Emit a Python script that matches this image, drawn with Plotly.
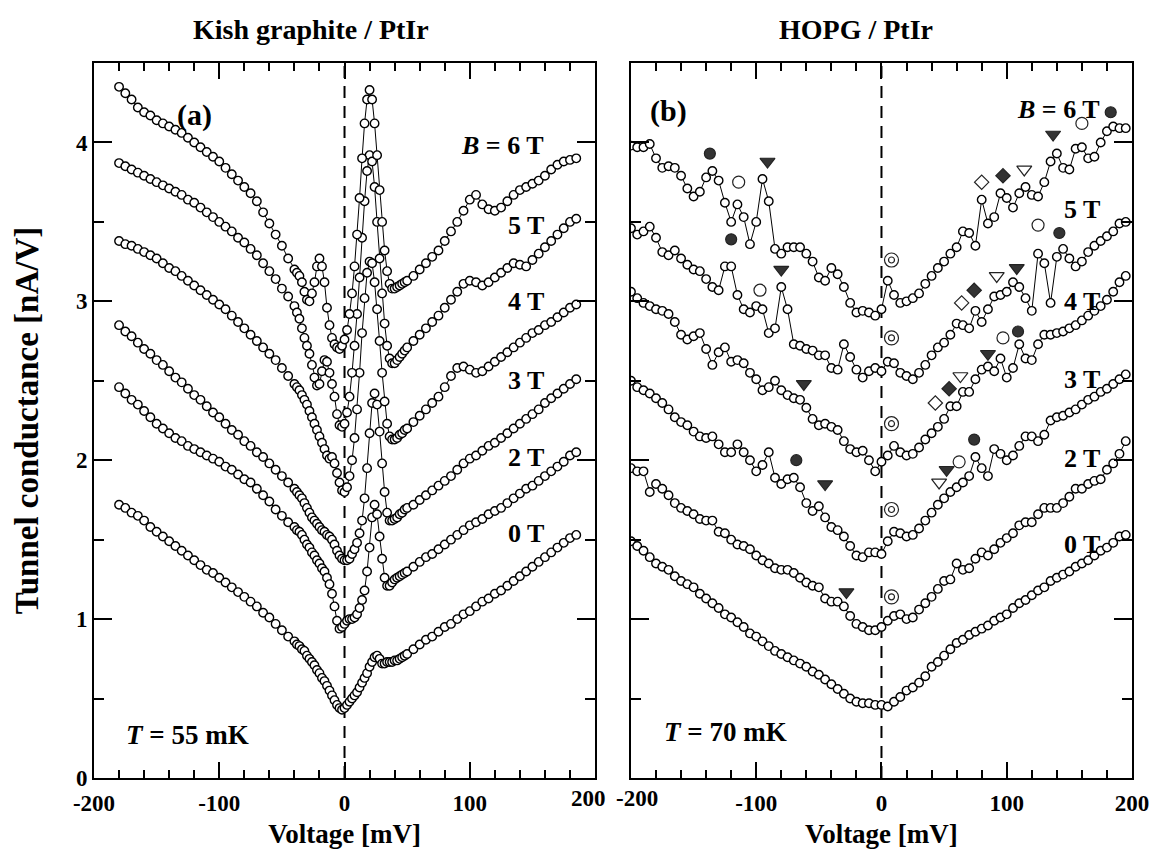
import plotly.graph_objects as go

#%% voltage grids [mV]
V_A = list(range(-180, -40, 5)) + list(range(-40, 50, 2)) + list(range(50, 190, 5))
V_B = list(range(-200, 200, 5))

#%% (a) Kish graphite / PtIr  -- conductance [nA/V]
A_0T = ([1.72, 1.70, 1.67, 1.65, 1.62, 1.58, 1.55, 1.52, 1.49, 1.46, 1.43, 1.40, 1.37, 1.34,
         1.31, 1.29, 1.26, 1.23, 1.20, 1.17, 1.14, 1.11, 1.08, 1.04, 1.01, 0.97, 0.93, 0.89]
        + [0.86, 0.84, 0.83, 0.81, 0.80, 0.77, 0.75, 0.73, 0.71, 0.68, 0.66, 0.63, 0.61, 0.58, 0.55,
           0.52, 0.49, 0.46, 0.44, 0.43, 0.44, 0.46, 0.48, 0.50, 0.52, 0.54, 0.57, 0.60, 0.63, 0.66,
           0.70, 0.73, 0.76, 0.77, 0.75, 0.72, 0.72, 0.73, 0.73, 0.73, 0.74, 0.74, 0.75, 0.76, 0.77]
        + [0.78, 0.81, 0.84, 0.87, 0.89, 0.92, 0.95, 0.97, 1.00, 1.03, 1.05, 1.08, 1.11, 1.13,
           1.16, 1.18, 1.21, 1.24, 1.27, 1.30, 1.33, 1.36, 1.39, 1.42, 1.45, 1.48, 1.51, 1.53])
A_2T = ([2.46, 2.42, 2.38, 2.35, 2.31, 2.27, 2.23, 2.20, 2.17, 2.14, 2.12, 2.09, 2.07, 2.05,
         2.03, 2.01, 1.99, 1.96, 1.94, 1.91, 1.88, 1.86, 1.82, 1.78, 1.74, 1.69, 1.65, 1.61]
        + [1.58, 1.56, 1.55, 1.53, 1.50, 1.47, 1.45, 1.42, 1.40, 1.37, 1.35, 1.32, 1.30, 1.26, 1.22,
           1.16, 1.08, 0.99, 0.94, 0.95, 0.97, 0.99, 1.00, 1.00, 1.01, 1.03, 1.07, 1.12, 1.18, 1.30,
           1.45, 1.64, 1.72, 1.66, 1.52, 1.38, 1.26, 1.21, 1.21, 1.23, 1.25, 1.26, 1.27, 1.28, 1.29]
        + [1.30, 1.33, 1.36, 1.39, 1.41, 1.44, 1.47, 1.50, 1.53, 1.56, 1.59, 1.61, 1.63, 1.66,
           1.68, 1.70, 1.73, 1.76, 1.79, 1.82, 1.84, 1.87, 1.90, 1.93, 1.96, 1.99, 2.03, 2.05])
A_3T = ([2.85, 2.81, 2.78, 2.74, 2.70, 2.67, 2.63, 2.60, 2.56, 2.52, 2.49, 2.45, 2.41, 2.38,
         2.34, 2.30, 2.27, 2.23, 2.19, 2.16, 2.12, 2.09, 2.05, 2.02, 1.98, 1.94, 1.90, 1.86]
        + [1.82, 1.80, 1.78, 1.76, 1.73, 1.70, 1.67, 1.64, 1.62, 1.60, 1.58, 1.56, 1.55, 1.53, 1.52,
           1.50, 1.47, 1.43, 1.40, 1.38, 1.37, 1.37, 1.38, 1.41, 1.44, 1.48, 1.54, 1.62, 1.76, 1.95,
           2.17, 2.36, 2.42, 2.35, 2.18, 1.98, 1.80, 1.67, 1.62, 1.62, 1.63, 1.64, 1.66, 1.67, 1.69]
        + [1.70, 1.72, 1.75, 1.78, 1.81, 1.84, 1.87, 1.90, 1.94, 1.98, 2.01, 2.03, 2.06, 2.09,
           2.11, 2.14, 2.17, 2.20, 2.23, 2.26, 2.29, 2.32, 2.36, 2.39, 2.42, 2.45, 2.48, 2.51])
A_4T = ([3.38, 3.36, 3.35, 3.33, 3.31, 3.29, 3.27, 3.24, 3.21, 3.19, 3.16, 3.13, 3.10, 3.07,
         3.04, 3.01, 2.98, 2.95, 2.91, 2.87, 2.83, 2.79, 2.75, 2.71, 2.67, 2.63, 2.58, 2.53]
        + [2.48, 2.46, 2.44, 2.41, 2.38, 2.35, 2.31, 2.27, 2.23, 2.19, 2.15, 2.11, 2.07, 2.03, 2.01,
           2.02, 1.98, 1.92, 1.86, 1.81, 1.80, 1.83, 1.90, 2.00, 2.14, 2.32, 2.55, 2.80, 3.02, 3.18,
           3.25, 3.24, 3.12, 2.95, 2.75, 2.55, 2.37, 2.23, 2.15, 2.13, 2.13, 2.14, 2.16, 2.17, 2.19]
        + [2.20, 2.24, 2.28, 2.32, 2.36, 2.40, 2.46, 2.53, 2.58, 2.59, 2.57, 2.55, 2.56, 2.59,
           2.62, 2.65, 2.68, 2.71, 2.74, 2.77, 2.80, 2.82, 2.85, 2.87, 2.90, 2.93, 2.96, 2.98])
A_5T = ([3.87, 3.85, 3.83, 3.81, 3.79, 3.77, 3.75, 3.73, 3.71, 3.69, 3.67, 3.64, 3.62, 3.59,
         3.56, 3.53, 3.50, 3.47, 3.44, 3.40, 3.37, 3.33, 3.29, 3.24, 3.19, 3.14, 3.08, 3.03]
        + [2.97, 2.93, 2.89, 2.83, 2.77, 2.72, 2.67, 2.60, 2.52, 2.47, 2.48, 2.56, 2.63, 2.62, 2.55,
           2.48, 2.40, 2.29, 2.22, 2.21, 2.23, 2.30, 2.40, 2.55, 2.72, 2.92, 3.15, 3.40, 3.63, 3.82,
           3.92, 3.88, 3.72, 3.50, 3.27, 3.05, 2.86, 2.72, 2.64, 2.61, 2.61, 2.63, 2.65, 2.67, 2.69]
        + [2.71, 2.75, 2.79, 2.83, 2.87, 2.91, 2.96, 3.01, 3.06, 3.11, 3.13, 3.12, 3.10, 3.12,
           3.15, 3.18, 3.21, 3.24, 3.23, 3.22, 3.26, 3.30, 3.34, 3.38, 3.42, 3.46, 3.50, 3.52])
A_6T = ([4.35, 4.31, 4.27, 4.22, 4.19, 4.17, 4.14, 4.12, 4.10, 4.08, 4.06, 4.03, 4.00, 3.97,
         3.94, 3.91, 3.88, 3.84, 3.80, 3.76, 3.72, 3.68, 3.63, 3.56, 3.49, 3.42, 3.35, 3.27]
        + [3.20, 3.18, 3.16, 3.12, 3.06, 3.01, 3.00, 3.05, 3.12, 3.22, 3.27, 3.22, 3.12, 2.96, 2.85,
           2.77, 2.73, 2.71, 2.70, 2.72, 2.76, 2.82, 2.92, 3.05, 3.22, 3.42, 3.65, 3.90, 4.12, 4.27,
           4.33, 4.27, 4.12, 3.92, 3.70, 3.50, 3.32, 3.19, 3.11, 3.08, 3.08, 3.09, 3.10, 3.11, 3.12]
        + [3.13, 3.16, 3.20, 3.24, 3.28, 3.32, 3.38, 3.44, 3.50, 3.57, 3.64, 3.67, 3.61, 3.58,
           3.57, 3.59, 3.63, 3.67, 3.70, 3.72, 3.74, 3.76, 3.79, 3.83, 3.86, 3.88, 3.89, 3.90])

#%% (b) HOPG / PtIr
B_0T = [1.49, 1.46, 1.43, 1.39, 1.35, 1.33, 1.31, 1.27, 1.24, 1.22,
        1.20, 1.16, 1.13, 1.10, 1.07, 1.03, 1.01, 0.98, 0.95, 0.91,
        0.89, 0.86, 0.83, 0.80, 0.78, 0.76, 0.74, 0.72, 0.70, 0.67,
        0.65, 0.62, 0.59, 0.56, 0.53, 0.50, 0.48, 0.47, 0.47, 0.46,
        0.46, 0.45, 0.48, 0.51, 0.55, 0.57, 0.60, 0.64, 0.70, 0.73,
        0.77, 0.81, 0.85, 0.87, 0.90, 0.92, 0.94, 0.96, 0.99, 1.01,
        1.03, 1.07, 1.10, 1.12, 1.15, 1.18, 1.20, 1.24, 1.26, 1.28,
        1.30, 1.33, 1.35, 1.37, 1.40, 1.43, 1.45, 1.48, 1.52, 1.53]
B_2T = [1.95, 1.93, 1.93, 1.80, 1.85, 1.82, 1.78, 1.73, 1.70, 1.68,
        1.66, 1.63, 1.62, 1.62, 1.55, 1.54, 1.50, 1.47, 1.46, 1.44,
        1.40, 1.37, 1.35, 1.32, 1.31, 1.31, 1.29, 1.26, 1.23, 1.21,
        1.20, 1.13, 1.11, 1.11, 1.08, 1.02, 0.97, 0.95, 0.93, 0.93,
        0.95, 0.99, 1.02, 1.03, 1.00, 1.01, 1.06, 1.10, 1.14, 1.19,
        1.24, 1.25, 1.35, 1.31, 1.32, 1.38, 1.42, 1.40, 1.44, 1.48,
        1.51, 1.54, 1.59, 1.61, 1.61, 1.66, 1.70, 1.70, 1.70, 1.73,
        1.77, 1.82, 1.82, 1.85, 1.87, 1.88, 1.94, 1.98, 2.04, 2.12]
B_3T = [2.50, 2.46, 2.44, 2.42, 2.39, 2.36, 2.32, 2.27, 2.24, 2.22,
        2.18, 2.15, 2.14, 2.15, 2.10, 2.05, 2.05, 2.10, 2.05, 2.00,
        1.93, 1.97, 2.05, 1.89, 1.85, 1.88, 1.89, 1.83, 1.73, 1.68,
        1.71, 1.64, 1.58, 1.56, 1.52, 1.46, 1.40, 1.39, 1.42, 1.42,
        1.41, 1.49, 1.55, 1.54, 1.52, 1.53, 1.57, 1.62, 1.67, 1.72,
        1.76, 1.80, 1.83, 1.86, 1.90, 2.02, 1.95, 1.90, 2.07, 2.04,
        2.00, 2.03, 2.09, 2.15, 2.15, 2.12, 2.16, 2.25, 2.27, 2.28,
        2.30, 2.32, 2.35, 2.38, 2.40, 2.43, 2.45, 2.48, 2.51, 2.54]
B_4T = [3.06, 3.02, 2.99, 2.97, 2.95, 2.94, 2.92, 2.87, 2.79, 2.76,
        2.78, 2.80, 2.70, 2.60, 2.68, 2.71, 2.62, 2.63, 2.61, 2.55,
        2.51, 2.44, 2.46, 2.50, 2.44, 2.41, 2.39, 2.38, 2.33, 2.26,
        2.22, 2.23, 2.21, 2.19, 2.12, 2.07, 2.05, 2.06, 2.00, 1.93,
        1.99, 2.03, 2.09, 2.05, 2.03, 2.04, 2.08, 2.13, 2.17, 2.21,
        2.26, 2.34, 2.34, 2.43, 2.43, 2.51, 2.57, 2.59, 2.56, 2.64,
        2.52, 2.58, 2.73, 2.64, 2.63, 2.73, 2.79, 2.79, 2.80, 2.81,
        2.83, 2.85, 2.88, 2.91, 2.94, 2.97, 3.01, 3.06, 3.12, 3.16]
B_5T = [3.46, 3.42, 3.44, 3.47, 3.40, 3.31, 3.29, 3.32, 3.27, 3.23,
        3.20, 3.19, 3.14, 3.09, 3.07, 3.22, 3.22, 3.04, 2.95, 2.93,
        2.97, 2.95, 2.80, 2.83, 3.09, 2.95, 2.73, 2.72, 2.70, 2.69,
        2.66, 2.66, 2.58, 2.57, 2.73, 2.65, 2.57, 2.52, 2.56, 2.58,
        2.56, 2.62, 2.61, 2.55, 2.53, 2.51, 2.55, 2.60, 2.66, 2.71,
        2.74, 2.79, 2.86, 2.85, 2.83, 2.94, 2.87, 2.95, 3.03, 3.04,
        3.06, 3.12, 3.09, 3.02, 2.94, 3.30, 3.24, 2.99, 3.28, 3.33,
        3.27, 3.22, 3.25, 3.31, 3.35, 3.38, 3.41, 3.44, 3.49, 3.50]
B_6T = [3.98, 3.97, 3.97, 3.99, 3.90, 3.84, 3.85, 3.84, 3.79, 3.71,
        3.66, 3.69, 3.78, 3.82, 3.76, 3.62, 3.50, 3.61, 3.53, 3.36,
        3.50, 3.77, 3.63, 3.33, 3.30, 3.34, 3.34, 3.34, 3.30, 3.25,
        3.15, 3.13, 3.21, 3.17, 3.09, 2.99, 2.93, 2.94, 2.93, 2.91,
        2.95, 3.13, 3.04, 2.99, 3.00, 3.02, 3.05, 3.11, 3.16, 3.21,
        3.25, 3.30, 3.34, 3.44, 3.43, 3.35, 3.64, 3.49, 3.53, 3.68,
        3.65, 3.59, 3.68, 3.72, 3.67, 3.66, 3.75, 3.88, 3.93, 3.84,
        3.83, 3.96, 3.97, 3.90, 3.91, 4.00, 4.07, 4.10, 4.09, 4.09]

#%% peak markers in (b): voltage, conductance
FILLED_CIRCLE_V = [-137, -120, -68, 74, 109, 142, 183]
FILLED_CIRCLE_G = [3.93, 3.39, 2.00, 2.13, 2.81, 3.43, 4.19]
OPEN_CIRCLE_V = [-114, -97, 62, 97, 125, 160]
OPEN_CIRCLE_G = [3.75, 3.07, 1.99, 2.77, 3.48, 4.12]
FILLED_TRI_V = [-91, -80, -62, -45, -28, 52, 85, 108, 137]
FILLED_TRI_G = [3.88, 3.20, 2.48, 1.85, 1.17, 1.94, 2.67, 3.21, 4.05]
OPEN_TRI_V = [46, 63, 92, 114]
OPEN_TRI_G = [1.86, 2.53, 3.16, 3.83]
FILLED_DIA_V = [54, 74, 97]
FILLED_DIA_G = [2.45, 3.07, 3.79]
OPEN_DIA_V = [43, 64, 80]
OPEN_DIA_G = [2.36, 2.99, 3.75]
DOUBLE_V = [8, 8, 8, 8, 8]
DOUBLE_G = [1.14, 1.69, 2.23, 2.77, 3.26]

FONT = "Liberation Serif, Times New Roman, Times, serif"

fig = go.Figure()

def add_curve(v, g, xa, ya):
    fig.add_trace(go.Scatter(
        x=v, y=g, xaxis=xa, yaxis=ya, mode="lines+markers",
        line=dict(color="black", width=1),
        marker=dict(symbol="circle", size=8.5, color="white",
                    line=dict(color="black", width=1.4)),
        showlegend=False, hoverinfo="skip"))

for g in [A_0T, A_2T, A_3T, A_4T, A_5T, A_6T]:
    add_curve(V_A, g, "x", "y")
for g in [B_0T, B_2T, B_3T, B_4T, B_5T, B_6T]:
    add_curve(V_B, g, "x2", "y2")

def add_marks(v, g, symbol, size, fill):
    fig.add_trace(go.Scatter(
        x=v, y=g, xaxis="x2", yaxis="y2", mode="markers",
        marker=dict(symbol=symbol, size=size, color=fill,
                    line=dict(color="#222222", width=1.2)),
        showlegend=False, hoverinfo="skip"))

add_marks(FILLED_CIRCLE_V, FILLED_CIRCLE_G, "circle", 11, "#333333")
add_marks(OPEN_CIRCLE_V, OPEN_CIRCLE_G, "circle", 12, "white")
add_marks(FILLED_TRI_V, FILLED_TRI_G, "triangle-down", 13, "#333333")
add_marks(OPEN_TRI_V, OPEN_TRI_G, "triangle-down", 13, "white")
add_marks(FILLED_DIA_V, FILLED_DIA_G, "diamond", 11, "#333333")
add_marks(OPEN_DIA_V, OPEN_DIA_G, "diamond", 11, "white")
add_marks(DOUBLE_V, DOUBLE_G, "circle", 14, "white")
add_marks(DOUBLE_V, DOUBLE_G, "circle", 6, "white")

#%% axes
tick_font = dict(family=FONT, size=23, color="black", weight="bold")
xa = dict(range=[-200, 200], tickmode="array",
          tickvals=[-200, -100, 0, 100, 200],
          ticks="inside", ticklen=16, tickwidth=1.5, tickcolor="black",
          minor=dict(tickmode="linear", tick0=0, dtick=20, ticks="inside",
                     ticklen=8, tickwidth=1.5, tickcolor="black"),
          showline=True, linewidth=2, linecolor="black", mirror="allticks",
          showgrid=False, zeroline=False, tickfont=tick_font, ticklabelstandoff=3,
          title=dict(text="Voltage [mV]", standoff=10,
                     font=dict(family=FONT, size=27, color="black", weight="bold")))
ya = dict(range=[0, 4.5], tickmode="array", tickvals=[0, 1, 2, 3, 4],
          ticks="inside", ticklen=18, tickwidth=1.5, tickcolor="black",
          minor=dict(tickmode="linear", tick0=0, dtick=0.5, ticks="inside",
                     ticklen=10, tickwidth=1.5, tickcolor="black"),
          showline=True, linewidth=2, linecolor="black", mirror="allticks",
          showgrid=False, zeroline=False, tickfont=tick_font)

fig.update_layout(
    width=1164, height=855,
    margin=dict(l=86, r=40, t=55, b=85),
    paper_bgcolor="white", plot_bgcolor="white",
    # the two touching labels at the panel join are drawn as notes below
    xaxis=dict(xa, domain=[0, 0.4827], anchor="y",
               ticktext=["-200", "-100", "0", "100", ""]),
    xaxis2=dict(xa, domain=[0.5173, 1], anchor="y2",
                ticktext=["", "-100", "0", "100", "200"]),
    yaxis=dict(ya, anchor="x",
               title=dict(text="Tunnel conductance [nA/V]", standoff=27,
                          font=dict(family=FONT, size=33, color="black", weight="bold"))),
    yaxis2=dict(ya, anchor="x2", showticklabels=False),
)

# dashed zero-bias lines
for xr, yr in [("x", "y"), ("x2", "y2")]:
    fig.add_shape(type="line", xref=xr, yref=yr, x0=0, x1=0, y0=0, y1=4.5,
                  line=dict(color="black", width=2, dash="12px,8px"), layer="below")

#%% text
def note(text, x, y, xr, yr, size=24, anchor="center"):
    fig.add_annotation(text=text, x=x, y=y, xref=xr, yref=yr, showarrow=False,
                       xanchor=anchor, yanchor="middle",
                       font=dict(family=FONT, size=size, color="black"))

# "200" of (a) and "-200" of (b), nudged apart so they do not collide
fig.add_annotation(text="<b>200</b>", x=200, y=0, xref="x", yref="y", showarrow=False,
                   xanchor="right", yanchor="top", xshift=13, yshift=-6,
                   font=dict(family=FONT, size=23, color="black"))
fig.add_annotation(text="<b>-200</b>", x=-200, y=0, xref="x2", yref="y2", showarrow=False,
                   xanchor="left", yanchor="top", xshift=-17, yshift=-6,
                   font=dict(family=FONT, size=23, color="black"))

fig.add_annotation(text="<b>Kish graphite / PtIr</b>", x=0.209, y=1.0, xref="paper",
                   yref="paper", xanchor="center", yanchor="bottom", showarrow=False,
                   yshift=16, font=dict(family=FONT, size=28, color="black"))
fig.add_annotation(text="<b>HOPG / PtIr</b>", x=0.734, y=1.0, xref="paper",
                   yref="paper", xanchor="center", yanchor="bottom", showarrow=False,
                   yshift=16, font=dict(family=FONT, size=28, color="black"))

note("<b>(a)</b>", -120, 4.17, "x", "y", size=30)
note("<b>(b)</b>", -170, 4.2, "x2", "y2", size=30)
note("<b><i>T</i> = 55 mK</b>", -176, 0.27, "x", "y", size=27, anchor="left")
note("<b><i>T</i> = 70 mK</b>", -175, 0.29, "x2", "y2", size=27, anchor="left")

for txt, y in [("<b><i>B</i> = 6 T</b>", 3.98), ("<b>5 T</b>", 3.48), ("<b>4 T</b>", 3.0),
               ("<b>3 T</b>", 2.5), ("<b>2 T</b>", 2.02), ("<b>0 T</b>", 1.54)]:
    note(txt, 161, y, "x", "y", size=26, anchor="right")
for txt, y in [("<b><i>B</i> = 6 T</b>", 4.21), ("<b>5 T</b>", 3.58), ("<b>4 T</b>", 3.0),
               ("<b>3 T</b>", 2.51), ("<b>2 T</b>", 2.01), ("<b>0 T</b>", 1.47)]:
    note(txt, 176, y, "x2", "y2", size=26, anchor="right")

fig.write_html("out.html")
